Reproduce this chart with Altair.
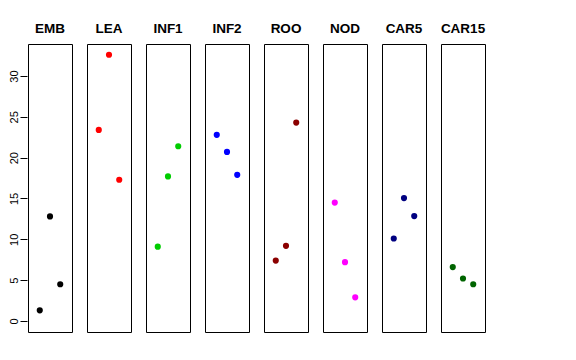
import altair as alt
import pandas as pd

panels = ["EMB", "LEA", "INF1", "INF2", "ROO", "NOD", "CAR5", "CAR15"]
colors = ["#000000", "#FF0000", "#00CD00", "#0000FF", "#8B0000", "#FF00FF", "#000080", "#006400"]
positions = [1, 2, 3]
values = {
    "EMB":   [1.3, 12.8, 4.5],
    "LEA":   [23.4, 32.6, 17.3],
    "INF1":  [9.1, 17.7, 21.4],
    "INF2":  [22.8, 20.7, 17.9],
    "ROO":   [7.4, 9.2, 24.3],
    "NOD":   [14.5, 7.2, 2.9],
    "CAR5":  [10.1, 15.05, 12.85],
    "CAR15": [6.6, 5.2, 4.5],
}
y_ticks = [0, 5, 10, 15, 20, 25, 30]

rows = []
for p in panels:
    for x, v in zip(positions, values[p]):
        rows.append({"panel": p, "x": x, "y": v})
df = pd.DataFrame(rows)

base = alt.Chart(df).mark_circle(size=38, opacity=1).encode(
    x=alt.X("x:Q", axis=None, scale=alt.Scale(domain=[-0.15, 4.15], nice=False, zero=False)),
    y=alt.Y("y:Q", title=None,
            scale=alt.Scale(domain=[-1.35, 33.92], nice=False, zero=False),
            axis=alt.Axis(values=y_ticks, grid=False, domain=False, tickSize=7,
                          tickColor="black", labelColor="black", labelFontSize=11,
                          labelFont="Liberation Sans", labelAngle=270,
                          labelAlign="center", labelBaseline="bottom", labelPadding=1)),
    color=alt.Color("panel:N", scale=alt.Scale(domain=panels, range=colors), legend=None),
).properties(width=44, height=288)

chart = base.facet(
    column=alt.Column("panel:N", sort=panels,
                      header=alt.Header(title=None, labelFontSize=13.5, labelFontWeight="bold",
                                        labelFont="Liberation Sans", labelColor="black",
                                        labelPadding=8)),
    spacing=13,
).properties(
    padding={"left": 0, "top": 13, "right": 5, "bottom": 5},
    background="white",
).configure_view(
    stroke="black", strokeWidth=1
)

chart.save("out.html", embed_options={"renderer": "svg", "actions": False})
